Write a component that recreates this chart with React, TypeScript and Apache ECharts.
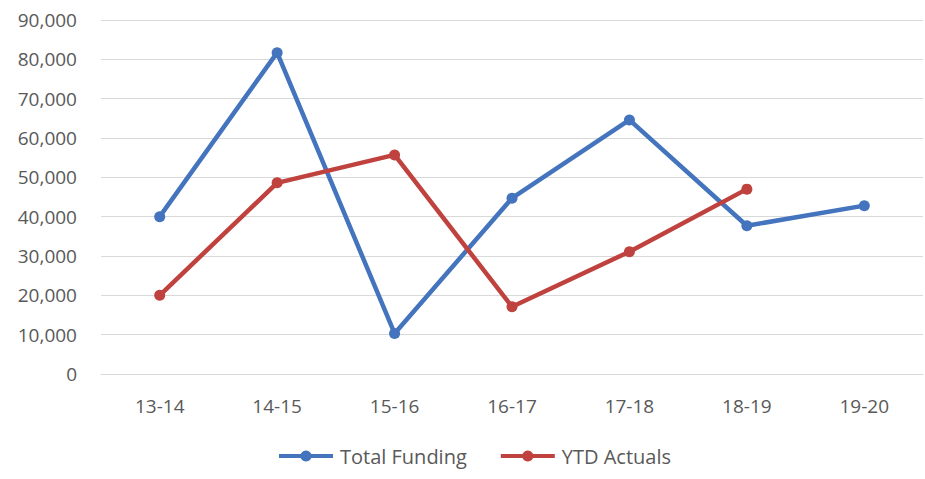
import React, { useEffect, useRef } from "react";
import * as echarts from "echarts";

const categories = ["13-14", "14-15", "15-16", "16-17", "17-18", "18-19", "19-20"];
const totalFunding = [40000, 81700, 10300, 44700, 64600, 37700, 42800];
const ytdActuals = [20000, 48600, 55700, 17100, 31100, 47000];
const yTicks = { min: 0, max: 90000, interval: 10000 };

export default function App() {
  const ref = useRef<HTMLDivElement>(null);
  useEffect(() => {
    if (!ref.current) return;
    const chart = echarts.init(ref.current, undefined, { renderer: "svg" });
    const font = "'Open Sans', 'Liberation Sans', sans-serif";
    chart.setOption({
      animation: false,
      backgroundColor: "#ffffff",
      grid: { left: 101, right: 2, top: 20, bottom: 105 },
      legend: {
        bottom: 8,
        left: 272,
        itemWidth: 54,
        itemHeight: 14,
        itemGap: 32,
        lineStyle: { width: 4 },
        textStyle: { color: "#595959", fontSize: 20, fontFamily: font, padding: [0, 0, 0, 2] },
        data: ["Total Funding", "YTD Actuals"],
      },
      xAxis: {
        type: "category",
        data: categories,
        boundaryGap: true,
        axisLine: { show: true, lineStyle: { color: "#d9d9d9", width: 1 } },
        axisTick: { show: false },
        axisLabel: { color: "#595959", fontSize: 19, fontFamily: font, margin: 22 },
      },
      yAxis: {
        type: "value",
        min: yTicks.min,
        max: yTicks.max,
        interval: yTicks.interval,
        axisLine: { show: false },
        axisTick: { show: false },
        splitLine: { lineStyle: { color: "#d9d9d9", width: 1 } },
        axisLabel: {
          color: "#595959",
          fontSize: 19,
          fontFamily: font,
          margin: 24,
          formatter: (v: number) => v.toLocaleString("en-US"),
        },
      },
      series: [
        {
          name: "Total Funding",
          type: "line",
          data: totalFunding,
          symbol: "circle",
          symbolSize: 11,
          lineStyle: { color: "#4374bd", width: 4.5 },
          itemStyle: { color: "#4374bd" },
        },
        {
          name: "YTD Actuals",
          type: "line",
          data: ytdActuals,
          symbol: "circle",
          symbolSize: 11,
          lineStyle: { color: "#c0423f", width: 4.5 },
          itemStyle: { color: "#c0423f" },
        },
      ],
    });
    return () => chart.dispose();
  }, []);
  return (
    <div
      ref={ref}
      style={{ position: "fixed", left: 0, top: 0, width: 925, height: 479, background: "#fff" }}
    />
  );
}
